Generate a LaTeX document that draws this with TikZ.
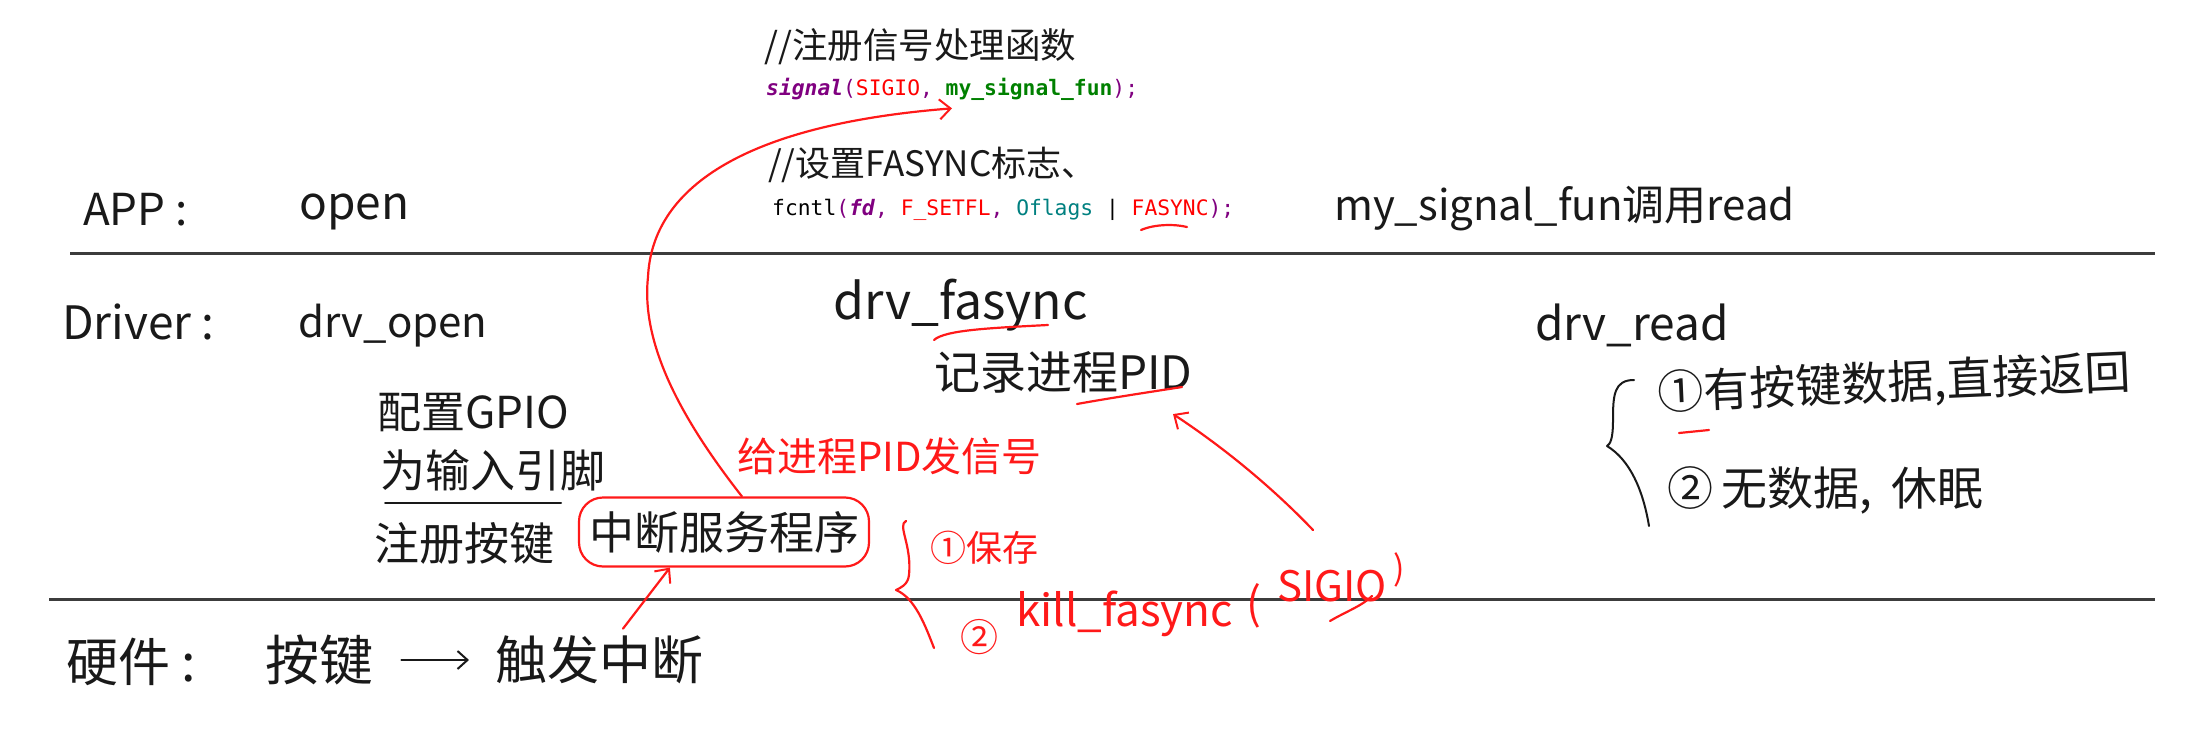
\documentclass[tikz,border=0pt]{standalone}
\usepackage{fontspec}
\setmainfont{Noto Sans CJK SC}
\newfontfamily\codefont{DejaVu Sans Mono}
\usetikzlibrary{arrows.meta,calc}
\definecolor{kwpurple}{RGB}{128,0,128}
\definecolor{codegreen}{RGB}{0,128,0}
\definecolor{codeteal}{RGB}{0,128,128}
\definecolor{codered}{RGB}{255,0,0}
\definecolor{ink}{RGB}{25,25,25}
\definecolor{pen}{RGB}{255,25,25}
\definecolor{rulegray}{RGB}{60,60,60}
\begin{document}
\begin{tikzpicture}[x=1pt,y=-1pt,
  hw/.style={inner sep=0pt, anchor=west, text=ink, font=\fontsize{#1pt}{#1pt}\selectfont},
  redhw/.style={hw=#1, text=pen},
  code/.style={inner sep=0pt, anchor=west, font=\codefont\fontsize{21.3pt}{24pt}\selectfont},
  ruleline/.style={draw=rulegray, line width=3pt},
  inkline/.style={draw=ink, line width=2pt, line cap=round, line join=round},
  penline/.style={draw=pen, line width=2.2pt, line cap=round, line join=round},
  penarrow/.style={penline, -{Straight Barb[length=11pt,width=20pt,line width=2pt]}},
  inkarrow/.style={inkline, -{Straight Barb[length=10pt,width=18pt,line width=2pt]}},
  isrbox/.style={draw=pen, line width=2.2pt, rounded corners=24pt, minimum width=290pt,
    minimum height=69pt, inner sep=0pt, text=ink, font=\fontsize{45pt}{45pt}\selectfont}
]
\useasboundingbox (0,0) rectangle (2191,746);

% separators
\draw[ruleline] (70,253) -- (2155,253);
\draw[ruleline] (49,599) -- (2155,599);

% code annotations (top)
\node[hw=35.5] (c1) at (764,47) {//注册信号处理函数};
\node[code] (sig) at (766,89) {\textcolor{kwpurple}{\textbf{\textit{signal}}(}\textcolor{codered}{SIGIO}\textcolor{kwpurple}{,} \textcolor{codegreen}{\textbf{my\_signal\_fun}}\textcolor{kwpurple}{);}};
\node[hw=35] (c2) at (768,165) {//设置FASYNC标志、};
\node[code] (fc) at (772,210) {fcntl\textcolor{kwpurple}{(\textbf{\textit{fd}},} \textcolor{codered}{F\_SETFL}\textcolor{kwpurple}{,} \textcolor{codeteal}{Oflags} | \textcolor{codered}{FASYNC}\textcolor{kwpurple}{);}};

% APP row
\node[hw=44] (app) at (83,210) {APP :};
\node[hw=46] (open) at (299,212) {open};
\node[hw=42] (msf) at (1334,209) {my\_signal\_fun调用read};

% Driver row
\node[hw=46] (drv) at (62,322) {Driver :};
\node[hw=42] (dopen) at (298,326) {drv\_open};
\node[hw=50] (dfas) at (833,305) {drv\_fasync};
\node[hw=46] (rec) at (934,372) {记录进程PID};
\node[hw=46] (dread) at (1535,325) {drv\_read};
\node[hw=44] (gpio1) at (377,413) {配置GPIO};
\node[hw=45] (gpio2) at (380,470) {为输入引脚};
\node[hw=45] (reg) at (374,543) {注册按键};
\node[isrbox] (isr) at (724,532) {中断服务程序};
\node[redhw=40] (send) at (737,456) {给进程PID发信号};
\node[redhw=36] (save) at (930,548) {①保存};
% kill_fasync ( SIGIO), written on a rising line
\node[redhw=38] (kA) at (960,637) {②};
\node[redhw=44] (kB) at (1016,614) {kill\_fasync};
\node[redhw=44] (kC) at (1246,606) {(};
\node[redhw=42] (kD) at (1277,586) {SIGIO};
\node[redhw=34] (kE) at (1393,570) {)};
\node[hw=46, rotate=2.5] (r1) at (1658,394) {①有按键数据,直接返回};
\node[hw=46] (r2) at (1667,490) {②\hspace{8pt}无数据,\hspace{20pt}休眠};

% hardware row
\node[hw=52] (hwl) at (66,662) {硬件 :};
\node[hw=54] (key) at (265,660) {按键};
\node[hw=52] (trig) at (495,660) {触发中断};
\draw[inkarrow, shorten <=28pt, shorten >=26pt] (key) -- (trig);

% underline below 为输入引脚
\draw[inkline] (385,503) -- (561,503);

% black brace for drv_read
\draw[inkline] (1634,380) .. controls (1614,380) and (1613,395) .. (1613,420)
  .. controls (1613,440) and (1610,444) .. (1607,446)
  .. controls (1630,460) and (1643,490) .. (1649,526);

% red brace
\draw[penline] (906,521) .. controls (897,525) and (912,545) .. (909,575)
  .. controls (908,585) and (900,588) .. (896,590)
  .. controls (915,598) and (925,625) .. (934,648);

% red underlines
\draw[penline] (1141,230) .. controls (1155,224) and (1175,224) .. (1187,227);
\draw[penline] (934,340) .. controls (945,330) and (990,328) .. (1048,325);
\draw[penline] (1077,404) .. controls (1110,398) and (1150,392) .. (1182,387);
\draw[penline] (1330,621) .. controls (1345,612) and (1362,606) .. (1372,596);
\draw[penline] (1679,433) -- (1709,430);

% red arrows
\draw[penarrow] ($(isr.north west)+(164,0)$) .. controls (690,430) and (640,350) .. (648,277)
  .. controls (652,190) and (740,125) .. ($(sig.south west)+(186,8)$);
\draw[penarrow] ($(trig.north west)+(128,-7)$) -- ($(isr.south west)+(92,0)$);
\coordinate (killtop) at (1313,530);
\draw[penarrow] (killtop) .. controls (1270,485) and (1220,445) .. ($(rec.south west)+(239,21)$);
\end{tikzpicture}
\end{document}
